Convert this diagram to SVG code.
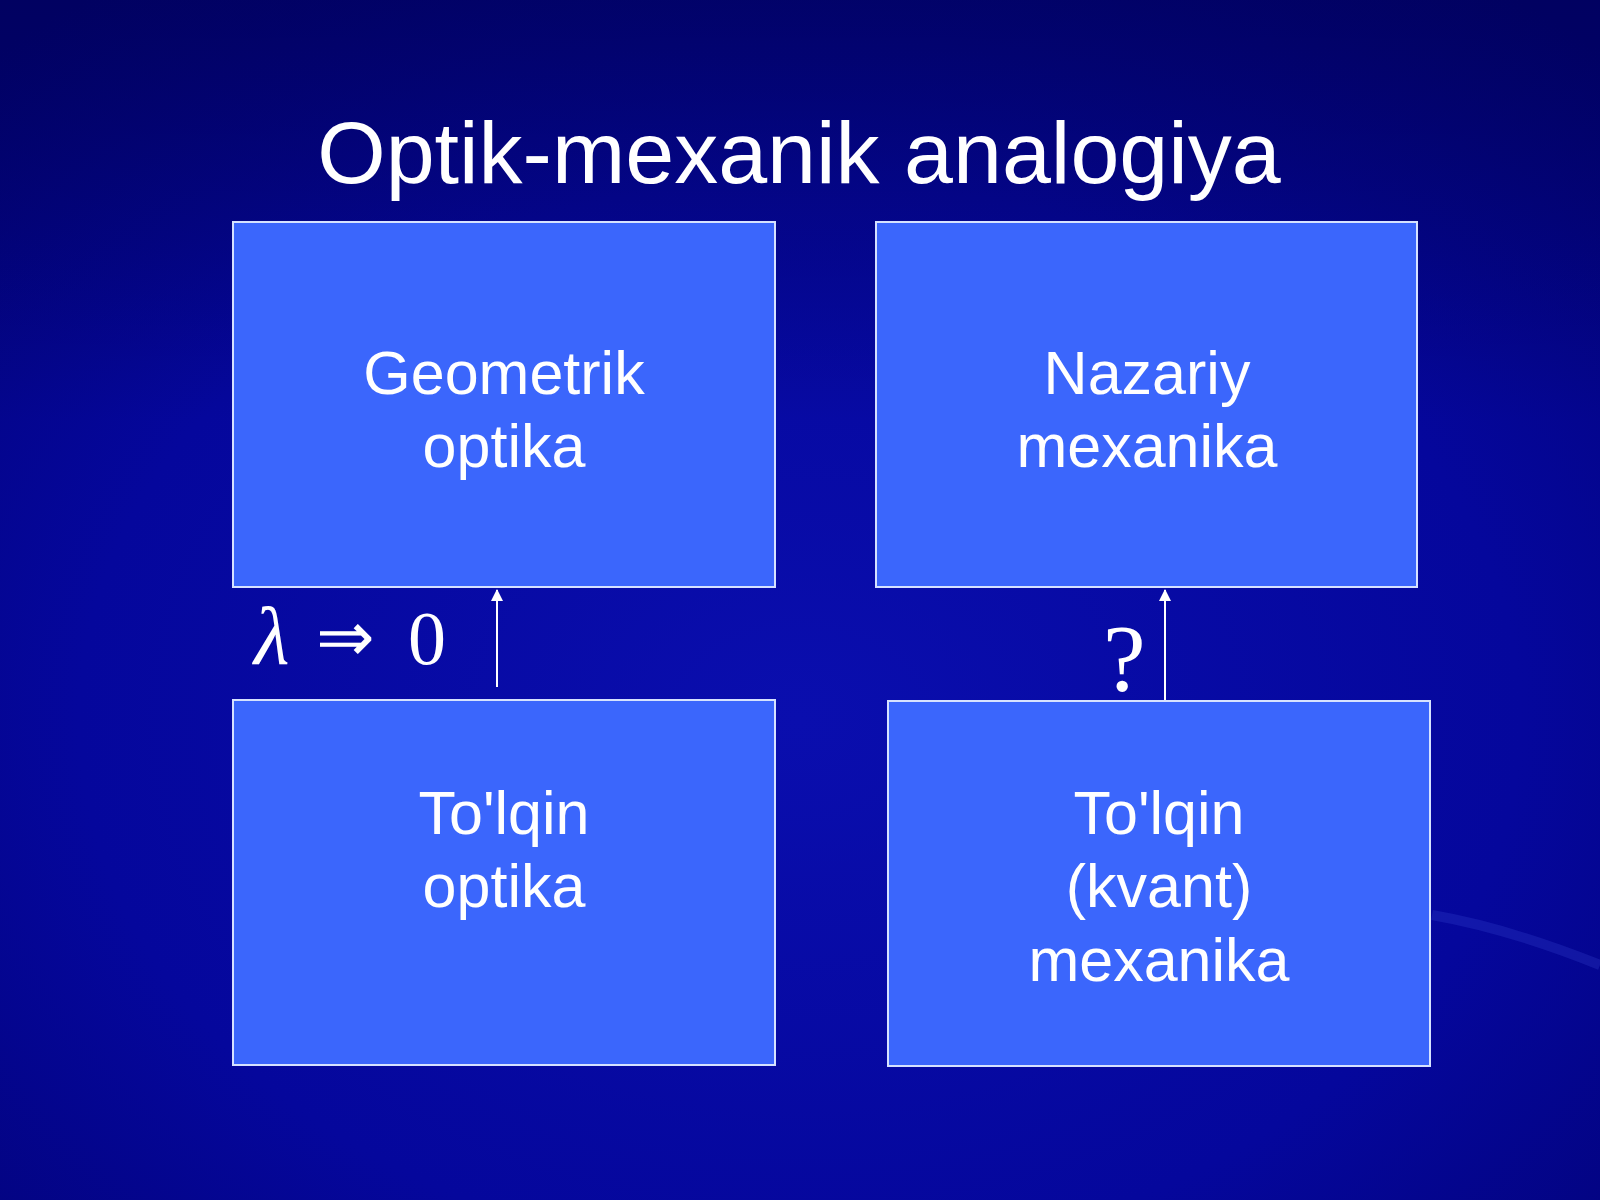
<svg xmlns="http://www.w3.org/2000/svg" width="1600" height="1200" viewBox="0 0 1600 1200">
<defs>
<radialGradient id="bg" cx="0.5" cy="0.6" r="0.75">
<stop offset="0" stop-color="#0a0eae"/>
<stop offset="0.6" stop-color="#05079c"/>
<stop offset="1" stop-color="#020276"/>
</radialGradient>
<linearGradient id="top" x1="0" y1="0" x2="0" y2="1">
<stop offset="0" stop-color="#000050" stop-opacity="0.55"/>
<stop offset="0.35" stop-color="#000050" stop-opacity="0"/>
</linearGradient>
<style>
.box{fill:#3b66fc;stroke:#d6e2ff;stroke-width:2}
.lbl{font-family:"Liberation Sans",Arial,sans-serif;font-size:61px;fill:#ffffff;text-anchor:middle}
.title{font-family:"Liberation Sans",Arial,sans-serif;font-size:88px;fill:#ffffff;text-anchor:middle}
.math{font-family:"Liberation Serif","Times New Roman",serif;fill:#ffffff}
.conn{stroke:#ffffff;stroke-width:2;fill:none}
</style>
</defs>
<rect x="0" y="0" width="1600" height="1200" fill="url(#bg)"/>
<rect x="0" y="0" width="1600" height="1200" fill="url(#top)"/>
<path d="M1432,915 C1490,925 1550,945 1600,965" stroke="#3a4ad8" stroke-opacity="0.25" stroke-width="10" fill="none"/>
<text class="title" x="799" y="183">Optik-mexanik analogiya</text>
<g id="geometrik-optika">
<rect class="box" x="233" y="222" width="542" height="365"/>
<text class="lbl" x="504" y="394">Geometrik</text>
<text class="lbl" x="504" y="467">optika</text>
</g>
<g id="nazariy-mexanika">
<rect class="box" x="876" y="222" width="541" height="365"/>
<text class="lbl" x="1147" y="394">Nazariy</text>
<text class="lbl" x="1147" y="467">mexanika</text>
</g>
<g id="tolqin-optika">
<rect class="box" x="233" y="700" width="542" height="365"/>
<text class="lbl" x="504" y="834">To'lqin</text>
<text class="lbl" x="504" y="907">optika</text>
</g>
<g id="tolqin-kvant-mexanika">
<rect class="box" x="888" y="701" width="542" height="365"/>
<text class="lbl" x="1159" y="834">To'lqin</text>
<text class="lbl" x="1159" y="907">(kvant)</text>
<text class="lbl" x="1159" y="981">mexanika</text>
</g>
<g id="connectors">
<line class="conn" x1="497" y1="687" x2="497" y2="590"/>
<path d="M491,601 L497,589 L503,601 Z" fill="#ffffff"/>
<line class="conn" x1="1165" y1="700" x2="1165" y2="590"/>
<path d="M1159,601 L1165,589 L1171,601 Z" fill="#ffffff"/>
</g>
<g id="labels">
<text class="math" x="254" y="664" font-size="82" font-style="italic">λ</text>
<text class="math" x="316" y="661" font-size="70">⇒</text>
<text class="math" x="408" y="664" font-size="76">0</text>
<text class="math" x="1103" y="691" font-size="96">?</text>
</g>
</svg>
